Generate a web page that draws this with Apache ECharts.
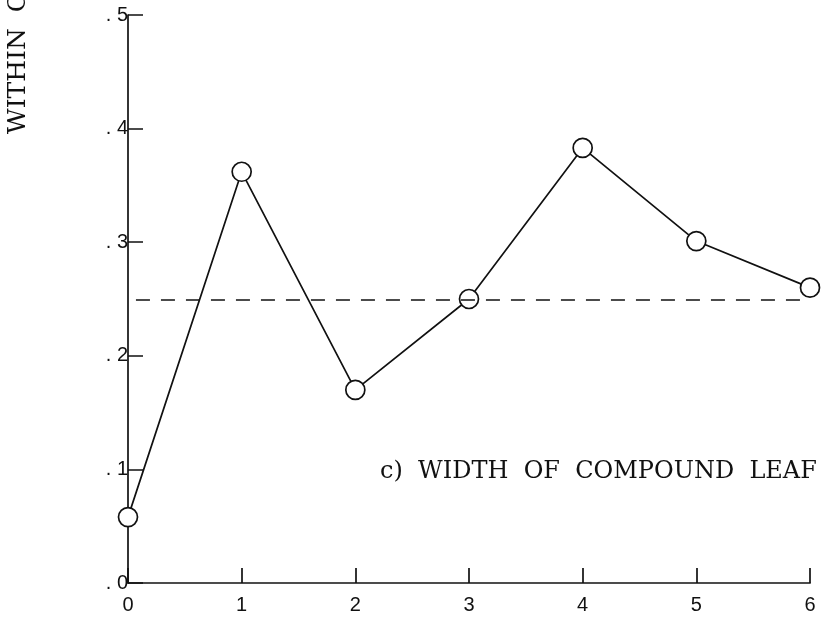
<!DOCTYPE html>
<html>
<head>
<meta charset="utf-8">
<script src="https://cdn.jsdelivr.net/npm/echarts@6/dist/echarts.min.js"></script>
<style>
  html, body { margin: 0; padding: 0; background: #fff; }
  #chart { width: 826px; height: 624px; }
</style>
</head>
<body>
<div id="chart"></div>
<script>
// Generation number along the x axis
const generations = [0, 1, 2, 3, 4, 5, 6];
// Correlation within clones for each generation
const correlations = [0.058, 0.362, 0.170, 0.250, 0.383, 0.301, 0.260];
// Overall level drawn as a dashed reference line (start/end on the x scale)
const referenceLevel = 0.249;
const referenceSpan = [0.07, 6];
// Tick values
const xTicks = [0, 1, 2, 3, 4, 5, 6];
const yTicks = [0, 0.1, 0.2, 0.3, 0.4, 0.5];

const ink = '#111';
const chart = echarts.init(document.getElementById('chart'), null, { renderer: 'canvas' });

chart.setOption({
  backgroundColor: '#fff',
  animation: false,
  grid: { left: 128, right: 16, top: 15, bottom: 41, containLabel: false },
  xAxis: {
    type: 'value',
    min: xTicks[0],
    max: xTicks[xTicks.length - 1],
    interval: 1,
    axisLine: { show: true, lineStyle: { color: ink, width: 1.7 } },
    axisTick: { show: true, inside: true, length: 15, lineStyle: { color: ink, width: 1.7 } },
    axisLabel: {
      color: ink, fontFamily: 'Liberation Sans', fontSize: 20, margin: 12,
      formatter: v => String(Math.round(v))
    },
    splitLine: { show: false }
  },
  yAxis: {
    type: 'value',
    min: yTicks[0],
    max: yTicks[yTicks.length - 1],
    interval: 0.1,
    axisLine: { show: true, lineStyle: { color: ink, width: 1.7 } },
    axisTick: { show: true, inside: true, length: 15, lineStyle: { color: ink, width: 1.5 } },
    axisLabel: {
      color: ink, fontFamily: 'Liberation Sans', fontSize: 20, margin: 0,
      formatter: v => '. ' + Math.round(v * 10)
    },
    splitLine: { show: false }
  },
  series: [{
    type: 'line',
    data: generations.map((g, i) => [g, correlations[i]]),
    symbol: 'circle',
    symbolSize: 19,
    lineStyle: { color: ink, width: 1.7 },
    itemStyle: { color: '#fff', borderColor: ink, borderWidth: 1.7 },
    z: 3,
    markLine: {
      silent: true,
      symbol: ['none', 'none'],
      label: { show: false },
      lineStyle: { color: ink, width: 1.7, type: [14, 11] },
      data: [[
        { coord: [referenceSpan[0], referenceLevel] },
        { coord: [referenceSpan[1], referenceLevel] }
      ]]
    }
  }],
  graphic: [
    {
      type: 'text',
      left: 380,
      top: 460,
      style: {
        text: 'c)  WIDTH  OF  COMPOUND  LEAF',
        font: '24px "DejaVu Serif"',
        fill: ink
      }
    },
    {
      type: 'text',
      x: 18,
      y: 134,
      rotation: Math.PI / 2,
      style: {
        text: 'WITHIN  CLONES',
        font: '25px "DejaVu Serif"',
        fill: ink,
        textAlign: 'left',
        textVerticalAlign: 'middle'
      }
    }
  ]
});
</script>
</body>
</html>
